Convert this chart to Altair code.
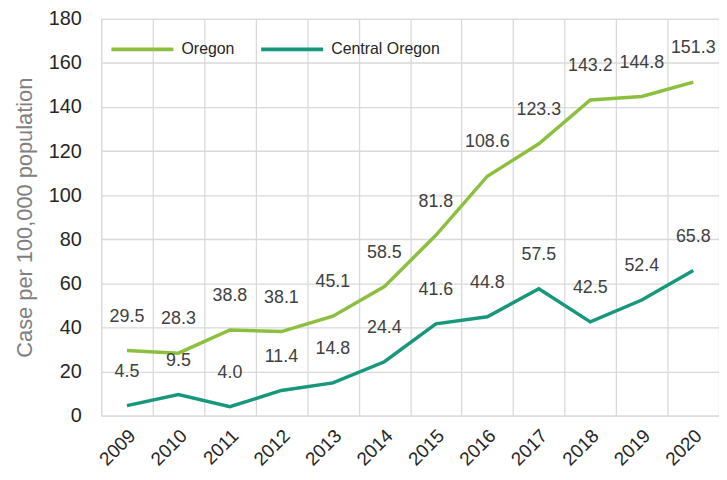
import altair as alt
import pandas as pd

years = [str(y) for y in range(2009, 2021)]
oregon = [29.5, 28.3, 38.8, 38.1, 45.1, 58.5, 81.8, 108.6, 123.3, 143.2, 144.8, 151.3]
central = [4.5, 9.5, 4.0, 11.4, 14.8, 24.4, 41.6, 44.8, 57.5, 42.5, 52.4, 65.8]
series = ["Oregon", "Central Oregon"]
colors = ["#8dbf3e", "#17977c"]
y_ticks = list(range(0, 181, 20))

rows = []
for i, yr in enumerate(years):
    rows.append({"year": yr, "series": series[0], "value": oregon[i], "label": f"{oregon[i]:.1f}"})
    rows.append({"year": yr, "series": series[1], "value": central[i], "label": f"{central[i]:.1f}"})
df = pd.DataFrame(rows)

FONT = "Liberation Sans"

x_enc = alt.X("year:O", title=None,
              scale=alt.Scale(type="band", paddingInner=0, paddingOuter=0),
              axis=alt.Axis(labelAngle=-45, labelAlign="right", labelBaseline="middle",
                            labelPadding=17, labelFontSize=19, labelColor="#262626",
                            labelOffset=5,
                            labelFont=FONT, ticks=False, domain=False,
                            grid=True, gridColor="#d9d9d9", gridWidth=1.3,
                            tickBand="extent"))
y_enc = alt.Y("value:Q", title="Case per 100,000 population",
              scale=alt.Scale(domain=[0, 180], nice=False),
              axis=alt.Axis(values=y_ticks, labelFontSize=20, labelColor="#262626",
                            labelFont=FONT, labelPadding=20, ticks=False, domain=False,
                            grid=True, gridColor="#d9d9d9", gridWidth=1.3,
                            titleFont=FONT, titleFontSize=22, titleFontWeight="normal",
                            titleColor="#808080", titlePadding=12))

color_enc = alt.Color("series:N", scale=alt.Scale(domain=series, range=colors),
                      legend=alt.Legend(title=None, orient="none", legendX=8, legendY=-3,
                                        direction="horizontal", symbolType="stroke",
                                        symbolSize=3900, symbolStrokeWidth=4,
                                        labelFontSize=16, labelFont=FONT,
                                        labelColor="#262626", columnPadding=18,
                                        labelOffset=6))

lines = alt.Chart(df).mark_line(strokeWidth=3.5).encode(
    x=x_enc, y=y_enc, color=color_enc, detail="series:N")

labels = alt.Chart(df).mark_text(fontSize=18, font=FONT, color="#404040",
                                 baseline="middle", dy=-34).encode(
    x=alt.X("year:O"), y=alt.Y("value:Q"), text="label:N")

chart = alt.layer(lines, labels).properties(
    width=623, height=400,
    autosize=alt.AutoSizeParams(type="none"),
    padding={"left": 94, "top": 9, "right": 0, "bottom": 58}
).configure_view(stroke=None).configure(background="white")

chart.save("out.html", embed_options={"renderer": "svg", "actions": False})
